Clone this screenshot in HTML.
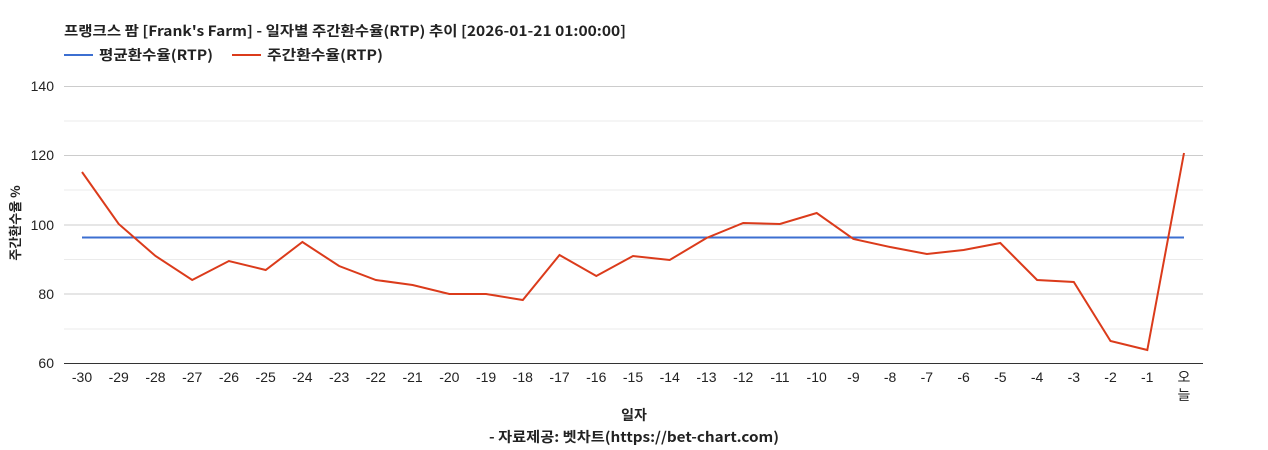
<!DOCTYPE html>
<html><head><meta charset="utf-8"><style>
body{margin:0;background:#fff;}
svg{display:block;font-family:"Liberation Sans","Noto Sans CJK KR",sans-serif;}
.k{font-family:"Noto Sans CJK KR","Liberation Sans",sans-serif;}
</style></head><body>
<svg width="1268" height="450" viewBox="0 0 1268 450" xmlns="http://www.w3.org/2000/svg">
<text class="k" x="64" y="36" font-size="14" font-weight="bold" fill="#222" textLength="562" lengthAdjust="spacingAndGlyphs">프랭크스 팜 [Frank's Farm] - 일자별 주간환수율(RTP) 추이 [2026-01-21 01:00:00]</text>
<line x1="64" y1="55" x2="93" y2="55" stroke="#3c6fd1" stroke-width="2"/>
<text class="k" x="99" y="60" font-size="14" font-weight="bold" fill="#222" textLength="114" lengthAdjust="spacingAndGlyphs">평균환수율(RTP)</text>
<line x1="232" y1="55" x2="261" y2="55" stroke="#db3b1b" stroke-width="2"/>
<text class="k" x="267" y="60" font-size="14" font-weight="bold" fill="#222" textLength="116" lengthAdjust="spacingAndGlyphs">주간환수율(RTP)</text>
<g stroke="#ebebeb" stroke-width="1">
<line x1="64" y1="121" x2="1203" y2="121"/><line x1="64" y1="190" x2="1203" y2="190"/>
<line x1="64" y1="259.5" x2="1203" y2="259.5"/><line x1="64" y1="329" x2="1203" y2="329"/>
</g>
<g stroke="#cccccc" stroke-width="1">
<line x1="64" y1="86.5" x2="1203" y2="86.5"/><line x1="64" y1="155.5" x2="1203" y2="155.5"/>
<line x1="64" y1="225" x2="1203" y2="225"/><line x1="64" y1="294" x2="1203" y2="294"/>
</g>
<line x1="64" y1="363.5" x2="1203" y2="363.5" stroke="#333"/>
<g font-size="14" fill="#222" text-anchor="end">
<text x="54" y="91">140</text><text x="54" y="160">120</text><text x="54" y="230">100</text>
<text x="54" y="299">80</text><text x="54" y="368">60</text>
</g>
<text class="k" transform="translate(20,223) rotate(-90)" font-size="13" font-weight="bold" fill="#222" text-anchor="middle">주간환수율 %</text>
<g font-size="14" fill="#222" text-anchor="middle" id="xl"></g>
<line x1="82" y1="237.5" x2="1184" y2="237.5" stroke="#3c6fd1" stroke-width="2"/>
<polyline id="pl" fill="none" stroke="#db3b1b" stroke-width="2" points=""/>
<text class="k" x="634" y="420" font-size="14" font-weight="bold" fill="#222" text-anchor="middle">일자</text>
<text class="k" x="634" y="442" font-size="14" font-weight="bold" fill="#222" text-anchor="middle" textLength="290" lengthAdjust="spacingAndGlyphs">- 자료제공: 벳차트(https://bet-chart.com)</text>
</svg>
<script>
var ys=[172,224,256,280,261,270,242,266,280,285,294,294,300,255,276,256,260,238,223,224,213,239,247,254,250,243,280,282,341,350,153];
var pts=[],g=document.getElementById('xl'),ns="http://www.w3.org/2000/svg";
for(var i=0;i<31;i++){var x=82+i*36.733;pts.push(x.toFixed(1)+","+ys[i]);
if(i<30){var t=document.createElementNS(ns,'text');t.setAttribute('x',x);t.setAttribute('y',382);t.textContent=String(i-30);g.appendChild(t);}
else{['오','늘'].forEach(function(c,k){var t=document.createElementNS(ns,'text');t.setAttribute('x',x);t.setAttribute('y',382+18*k);t.textContent=c;g.appendChild(t);});}}
document.getElementById('pl').setAttribute('points',pts.join(' '));
</script>
</body></html>
